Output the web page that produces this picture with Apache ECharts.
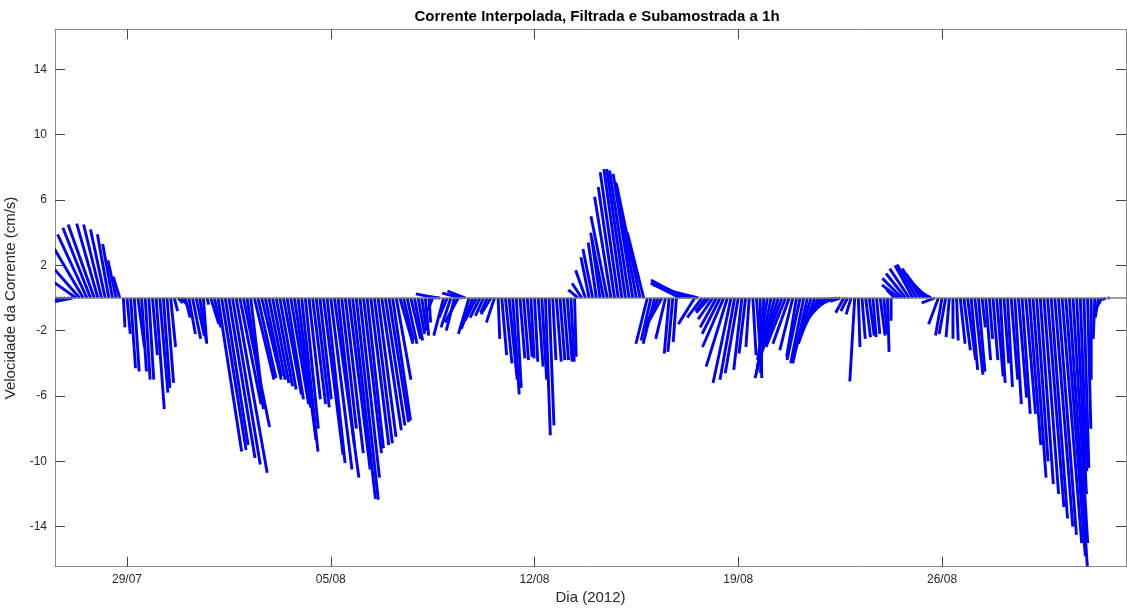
<!DOCTYPE html>
<html>
<head>
<meta charset="utf-8">
<script src="https://cdn.jsdelivr.net/npm/echarts@6/dist/echarts.min.js"></script>
<style>html,body{margin:0;padding:0;background:#fff}#c{width:1127px;height:610px}</style>
</head>
<body>
<div id="c"></div>
<script>
// Time of first sample: days since 26/07/2012 00:00; samples every 3 hours
const startDay = 0.5;
const stepHours = 3;
// East component (cm/s), one row per day
const uEast = [
 -1.5,-1.4,-1.4,-1.3,
 -1.2,-1.0,-1.4,-2.2,-2.0,-1.8,-1.7,-1.6,
 -1.3,-1.1,-0.9,-0.7,-0.6,-0.5,-0.4,0.1,
 0.2,0.3,0.3,0.4,0.3,0.3,0.3,0.3,
 0.5,0.5,0.4,0.4,0.3,0.2,0.3,0.4,
 0.3,0.4,0.5,0.5,0.4,0.2,0.1,0.5,
 0.4,1.45,1.5,1.4,1.6,1.7,1.9,1.3,
 1.6,1.0,0.7,1.2,1.1,1.2,1.0,1.0,
 1.0,1.0,1.0,1.1,1.0,1.1,1.0,1.1,
 1.0,0.8,0.7,0.8,0.8,0.7,1.2,1.1,
 1.3,1.5,1.0,0.9,1.1,1.3,1.4,1.35,
 1.2,1.1,1.0,1.1,1.1,1.1,1.2,1.2,
 1.2,1.1,0.9,0.8,0.6,0.6,0.6,0.5,
 0.4,0.3,0.2,0.1,-0.3,-1.25,-0.8,-0.6,
 -0.5,-0.6,-0.5,-0.8,-1.2,-1.1,-0.65,-0.7,
 -0.7,-0.6,-0.5,-0.4,-0.6,-0.5,0.1,0.3,
 0.4,0.5,0.4,0.3,0.3,0.3,0.3,0.2,
 0.2,0.3,0.3,0.3,0.3,0.2,0.3,0.3,
 0.3,0.3,0.2,0.1,-0.6,-0.6,-0.6,-0.5,
 -0.6,-0.5,-0.5,-0.8,-1.0,-1.0,-1.0,-1.1,
 -1.1,-1.15,-1.2,-1.2,-1.3,-1.45,-1.0,-0.7,
 -0.6,-0.7,-0.9,-1.0,-0.6,-0.3,-0.3,-0.2,
 -1.8,-2.0,-2.2,-2.3,-1.0,-2.0,-0.9,-0.6,
 -0.8,-0.9,-1.0,-1.1,-1.3,-1.3,-1.1,-0.9,
 -0.8,-0.5,-0.4,-0.2,0.2,0.3,0.1,-0.2,
 -0.6,-0.9,-1.2,-1.3,-1.3,-1.2,-1.0,-0.8,
 -0.6,-0.8,-0.8,-0.9,-1.0,-1.0,-1.1,-1.2,
 -1.2,-1.2,-1.1,-0.9,-0.6,-0.5,-0.4,-0.3,
 -0.3,0.1,0.2,0.3,0.3,0.2,0.2,0.3,
 0.2,0.1,0.0,-0.5,-1.0,-1.2,-1.2,-1.2,
 -1.1,-1.2,-1.1,-1.1,-1.0,-0.9,-0.8,-0.6,
 -0.4,-0.4,-0.2,0.0,0.1,0.3,0.4,0.5,
 0.4,0.5,0.4,0.2,0.3,0.2,0.3,0.4,
 0.3,0.3,0.3,0.4,0.4,0.5,0.5,0.6,
 0.7,0.8,0.7,0.8,0.9,1.0,1.0,1.1,
 1.1,1.2,1.2,1.1,0.9,0.6,0.4,0.3,
 0.2,0.0,-0.1,-0.2,-0.3,-0.2,-0.1,0.0
];
// North component (cm/s), one row per day
const vNorth = [
 -0.4,-0.35,-0.35,-0.3,
 -0.3,-0.2,1.0,2.5,3.4,3.9,4.3,4.5,
 4.55,4.5,4.2,3.9,3.3,2.3,1.3,-1.8,
 -2.2,-4.3,-4.5,-3.0,-4.5,-5.0,-5.0,-3.5,
 -6.8,-5.8,-5.5,-5.2,-3.0,-0.8,-0.3,-0.5,
 -1.2,-2.2,-2.5,-2.3,-2.6,-2.8,-0.4,-1.6,
 -1.8,-9.4,-9.3,-9.0,-9.8,-10.2,-10.7,-6.5,
 -7.9,-6.8,-6.0,-5.0,-4.9,-5.0,-4.8,-5.0,
 -5.2,-5.4,-5.6,-5.9,-6.2,-6.5,-6.7,-8.7,
 -9.4,-8.0,-6.2,-6.5,-6.7,-6.2,-9.6,-10.1,
 -10.5,-11.0,-9.0,-8.0,-9.5,-10.5,-12.3,-12.35,
 -11.0,-9.5,-9.2,-9.0,-8.9,-8.5,-8.1,-7.8,
 -7.6,-7.5,-5.0,-2.8,-2.6,-2.8,-2.5,-2.6,
 -2.2,-2.0,-2.3,-1.5,-0.8,0.25,0.1,-2.3,
 -1.2,-1.8,-2.0,-1.5,0.3,0.43,-2.2,-1.9,
 -1.4,-1.2,-1.1,-0.9,-1.0,-1.5,-2.5,-3.5,
 -4.0,-5.0,-5.9,-5.5,-3.7,-3.8,-3.6,-3.7,
 -3.9,-4.2,-5.0,-8.4,-7.8,-3.8,-3.9,-3.8,
 -3.8,-3.9,-3.9,-3.6,0.5,0.9,1.7,2.5,
 3.0,3.4,3.6,4.0,5.0,6.2,6.8,7.7,
 7.9,7.9,7.8,7.6,7.1,7.0,4.0,-2.8,
 -2.6,-2.8,-2.0,-1.8,-2.5,-3.4,-3.3,-2.7,
 0.9,1.1,1.0,0.8,-1.6,0.5,-1.2,-0.8,
 -0.9,-1.3,-1.8,-2.2,-3.0,-4.2,-5.2,-5.0,
 -4.6,-4.4,-3.4,-3.0,-3.5,-4.2,-4.9,-4.6,
 -3.8,-4.6,-4.9,-4.2,-3.5,-3.0,-2.8,-3.2,
 -3.6,-3.8,-4.0,-4.0,-3.3,-2.8,-2.3,-1.8,
 -1.4,-1.0,-0.6,-0.3,-0.2,-0.9,-0.8,-1.0,
 -5.1,-3.0,-2.5,-2.4,-2.3,-2.4,-2.2,-2.3,
 -2.2,-3.3,-1.4,0.5,0.8,1.2,1.5,1.8,
 2.0,2.05,1.8,1.5,1.0,0.5,-0.3,-1.6,
 -2.3,-2.2,-2.4,-2.5,-2.6,-2.8,-3.2,-3.8,
 -4.4,-4.7,-4.5,-1.8,-3.8,-2.5,-3.8,-4.8,
 -5.2,-4.0,-5.45,-5.0,-6.5,-6.1,-7.1,-7.1,
 -9.0,-11.0,-10.0,-11.4,-12.0,-12.8,-13.5,-14.0,
 -14.5,-15.0,-15.8,-16.45,-15.0,-12.0,-10.6,-10.4,
 -8.0,-5.0,-2.5,-1.2,-0.5,-0.1,0.0,0.0
];
const xTickDays = [3, 10, 17, 24, 31];
const xTickLabels = ['29/07', '05/08', '12/08', '19/08', '26/08'];
const yTicks = [-14, -10, -6, -2, 2, 6, 10, 14];

const X_MIN = 0.526, X_MAX = 37.32, Y_MIN = -16.45, Y_MAX = 16.45;
const K = 0.561; // days of horizontal displacement per cm/s (equal pixel scale to vertical)

const data = uEast.map((u, i) => [startDay + i * stepHours / 24, u, vNorth[i]]);

const font = 'Liberation Sans, Arial, Helvetica, sans-serif';
const axisCol = '#8a8a8a';
const tickStyle = { show: true, inside: true, length: 10, lineStyle: { color: '#444', width: 1 } };

const chart = echarts.init(document.getElementById('c'), null, { renderer: 'canvas' });
chart.setOption({
  animation: false,
  backgroundColor: '#fff',
  title: {
    text: 'Corrente Interpolada, Filtrada e Subamostrada a 1h',
    left: 592, top: 4, textAlign: 'center',
    textStyle: { fontFamily: font, fontSize: 15, fontWeight: 'bold', color: '#000' }
  },
  grid: { left: 55, right: 1, top: 29.3, bottom: 43.3, containLabel: false, outerBoundsMode: 'none' },
  xAxis: [{
    type: 'value', min: X_MIN, max: X_MAX, position: 'bottom',
    name: 'Dia (2012)', nameLocation: 'middle', nameGap: 24,
    nameTextStyle: { fontFamily: font, fontSize: 15, color: '#262626' },
    axisLine: { onZero: false, lineStyle: { color: axisCol, width: 1 } },
    axisTick: Object.assign({ customValues: xTickDays }, tickStyle),
    axisLabel: {
      customValues: xTickDays, margin: 7,
      formatter: v => xTickLabels[xTickDays.indexOf(v)] || '',
      fontFamily: font, fontSize: 12, color: '#262626'
    },
    splitLine: { show: false }
  }, {
    type: 'value', min: X_MIN, max: X_MAX, position: 'top',
    axisLine: { onZero: false, lineStyle: { color: axisCol, width: 1 } },
    axisTick: Object.assign({ customValues: xTickDays }, tickStyle),
    axisLabel: { show: false }, splitLine: { show: false }
  }],
  yAxis: [{
    type: 'value', min: Y_MIN, max: Y_MAX, position: 'left',
    name: 'Velocidade da Corrente (cm/s)', nameLocation: 'middle', nameGap: 25,
    nameTextStyle: { fontFamily: font, fontSize: 15, color: '#262626' },
    axisLine: { show: true, onZero: false, lineStyle: { color: axisCol, width: 1 } },
    axisTick: Object.assign({ customValues: yTicks }, tickStyle),
    axisLabel: { customValues: yTicks, margin: 8, fontFamily: font, fontSize: 12, color: '#262626' },
    splitLine: { show: false }
  }, {
    type: 'value', min: Y_MIN, max: Y_MAX, position: 'right',
    axisLine: { show: true, onZero: false, lineStyle: { color: axisCol, width: 1 } },
    axisTick: Object.assign({ customValues: yTicks }, tickStyle),
    axisLabel: { show: false }, splitLine: { show: false }
  }],
  series: [{
    type: 'custom',
    xAxisIndex: 0, yAxisIndex: 0,
    clip: true,
    encode: { x: 0, y: 2 },
    data: data,
    renderItem: function (params, api) {
      const t = api.value(0), u = api.value(1), v = api.value(2);
      const p0 = api.coord([t, 0]);
      const p1 = api.coord([t + u * K, v]);
      return {
        type: 'line',
        shape: { x1: p0[0], y1: p0[1], x2: p1[0], y2: p1[1] },
        style: { stroke: '#0000ff', lineWidth: 2.9, lineCap: 'butt' }
      };
    },
    markLine: {
      silent: true, symbol: 'none', label: { show: false }, animation: false,
      lineStyle: { color: '#7f7f7f', width: 1.5, type: 'solid' },
      data: [{ yAxis: 0 }]
    }
  }]
});
</script>
</body>
</html>
